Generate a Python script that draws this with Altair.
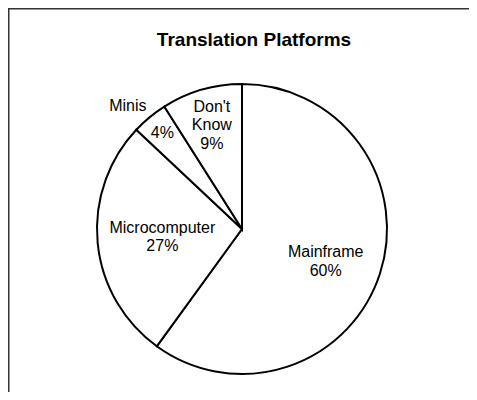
import altair as alt
import pandas as pd

categories = ["Mainframe", "Microcomputer", "Minis", "Don't Know"]
values = [60, 27, 4, 9]
inner_labels = [["Mainframe", "60%"], ["Microcomputer", "27%"], ["4%"], ["Don't", "Know", "9%"]]
outer_labels = ["", "", "Minis", ""]
title_text = "Translation Platforms"

df = pd.DataFrame({
    "category": categories,
    "value": values,
    "order": list(range(len(categories))),
    "inner": inner_labels,
    "outer": outer_labels,
})

CX, CY, R = 234, 221, 145
FONT = "Liberation Sans"
LH = 18.5
# label distance from the centre and vertical nudge, per slice (style)
label_radius = {"Mainframe": 88, "Microcomputer": 80, "Minis": 125, "Don't Know": 108}
label_dy = {"Mainframe": -4, "Microcomputer": -9, "Minis": 0, "Don't Know": -18.5}

base = alt.Chart(df).encode(
    theta=alt.Theta("value:Q", stack=True),
    order=alt.Order("order:Q", sort="ascending"),
)

pie = base.mark_arc(fill="white", stroke="black", strokeWidth=2).encode(
    radius=alt.value(R), x=alt.value(CX), y=alt.value(CY)
)

layers = [pie]
for i, cat in enumerate(categories):
    layers.append(
        base.transform_calculate(
            lab=f"datum.order == {i} ? datum.inner : ''"
        ).mark_text(font=FONT, fontSize=16, lineHeight=LH, color="black",
                    align="center", baseline="middle", dy=label_dy[cat]).encode(
            text="lab:N",
            radius=alt.value(label_radius[cat]),
            x=alt.value(CX), y=alt.value(CY),
        )
    )

outer_text = base.mark_text(font=FONT, fontSize=16, color="black", align="center",
                            baseline="middle", dx=-7, dy=6).encode(
    text="outer:N",
    radius=alt.value(168),
    x=alt.value(CX), y=alt.value(CY),
)
layers.append(outer_text)

title = alt.Chart(pd.DataFrame({"t": [title_text]})).mark_text(
    font=FONT, fontSize=19, fontWeight="bold", color="black", align="center", baseline="middle"
).encode(text="t:N", x=alt.value(246), y=alt.value(32))
layers.append(title)

frame_top = alt.Chart(pd.DataFrame({"a": [0]})).mark_rule(color="#333", strokeWidth=1.5).encode(
    x=alt.value(0), x2=alt.value(461), y=alt.value(0.75)
)
frame_left = alt.Chart(pd.DataFrame({"a": [0]})).mark_rule(color="#333", strokeWidth=1.5).encode(
    x=alt.value(0.75), y=alt.value(0), y2=alt.value(384)
)
layers += [frame_top, frame_left]

chart = alt.layer(*layers).properties(
    width=461, height=384, autosize=alt.AutoSizeParams(type="none"), padding=0
).configure_view(stroke=None)

chart.save("out.html", embed_options={"renderer": "svg", "actions": False})
